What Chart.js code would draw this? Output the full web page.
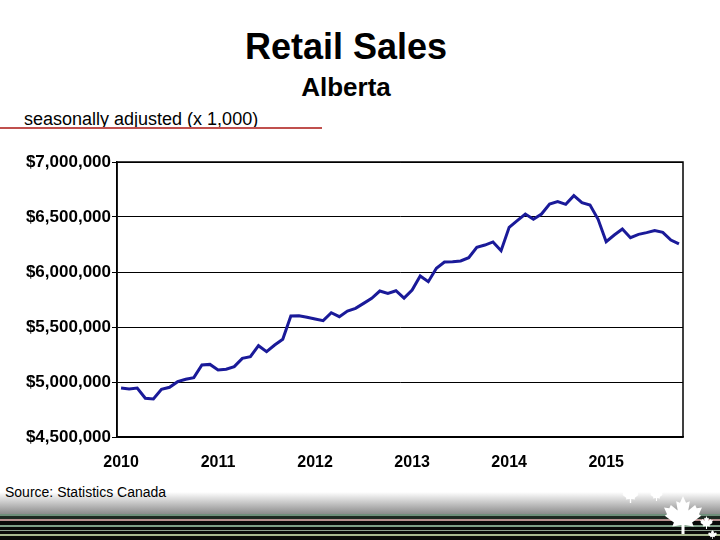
<!DOCTYPE html>
<html>
<head>
<meta charset="utf-8">
<script src="https://cdn.jsdelivr.net/npm/chart.js@4/dist/chart.umd.min.js"></script>
<style>
  html, body { margin: 0; padding: 0; background: #ffffff; }
  #page { position: relative; width: 720px; height: 540px; overflow: hidden; font-family: "Liberation Sans", Arial, sans-serif; }
  .t { position: absolute; line-height: 1; white-space: nowrap; color: #000; }
  #title { top: 29px; left: 0; width: 692px; text-align: center; font-size: 36px; font-weight: bold; }
  #sub { top: 74px; left: 0; width: 692px; text-align: center; font-size: 26px; font-weight: bold; }
  #note { top: 110px; left: 24px; font-size: 18px; }
  #rule { position: absolute; left: 0; top: 127px; width: 322px; height: 2px; background: #c0504d; }
  #src { top: 485px; left: 5px; font-size: 14px; }
  #chartBox { position: absolute; left: 0; top: 140px; width: 720px; height: 340px; }
  #fade { position: absolute; left: 0; top: 492px; width: 720px; height: 22px; background: linear-gradient(to bottom, rgba(255,255,255,1), #8c8c8c); }
  #stripes { position: absolute; left: 0; top: 514px; width: 720px; height: 26px; background: linear-gradient(to bottom,
      #6f8f7a 0px, #6f8f7a 2px, #1e2a22 2px, #1e2a22 5px, #b89090 5px, #b89090 7px, #0a0a0a 7px, #0a0a0a 11px,
      #7f9f88 11px, #7f9f88 13px, #0a0a0a 13px, #0a0a0a 16px, #8fa090 16px, #8fa090 17.5px, #0a0a0a 17.5px, #0a0a0a 20px,
      #a8b890 20px, #a8b890 22px, #0a0a0a 22px, #0a0a0a 26px); }
  #leaves { position: absolute; left: 0; top: 0; }
</style>
</head>
<body>
<div id="page">
  <div id="fade"></div>
  <div id="stripes"></div>
  <svg id="leaves" width="720" height="540">
    <defs>
      <polygon id="leaf" points="50,0 58,18 68,14 64,38 82,24 86,32 100,30 92,48 98,52 74,70 78,80 54,76 54,100 46,100 46,76 22,80 26,70 2,52 8,48 0,30 14,32 18,24 36,38 32,14 42,18" fill="#ffffff"/>
    </defs>
    <use href="#leaf" transform="translate(622,486) scale(0.17)"/>
    <use href="#leaf" transform="translate(650,488) scale(0.13)"/>
    <use href="#leaf" transform="translate(664,496) scale(0.38)"/>
    <use href="#leaf" transform="translate(700,516) scale(0.13)"/>
    <use href="#leaf" transform="translate(708,530) scale(0.09)"/>
  </svg>
  <div class="t" id="title">Retail Sales</div>
  <div class="t" id="sub">Alberta</div>
  <div class="t" id="note">seasonally adjusted (x 1,000)</div>
  <div id="rule"></div>
  <div id="chartBox"><canvas id="c" width="720" height="340"></canvas></div>
  <div class="t" id="src">Source: Statistics Canada</div>
</div>
<script>
const years = [2010, 2011, 2012, 2013, 2014, 2015];
const monthNames = ["Jan","Feb","Mar","Apr","May","Jun","Jul","Aug","Sep","Oct","Nov","Dec"];
const retailSales = [
  4945000, 4936000, 4945000, 4852000, 4845000, 4934000, 4952000, 5003000, 5025000, 5040000, 5155000, 5160000,
  5110000, 5116000, 5140000, 5215000, 5230000, 5330000, 5276000, 5336000, 5388000, 5600000, 5603000, 5588000,
  5573000, 5558000, 5630000, 5594000, 5645000, 5670000, 5715000, 5761000, 5827000, 5806000, 5830000, 5763000,
  5836000, 5964000, 5912000, 6034000, 6091000, 6094000, 6100000, 6130000, 6224000, 6245000, 6273000, 6194000,
  6406000, 6467000, 6527000, 6479000, 6527000, 6618000, 6640000, 6615000, 6694000, 6630000, 6609000, 6479000,
  6276000, 6336000, 6391000, 6312000, 6342000, 6358000, 6376000, 6361000, 6291000, 6255000
];
const yTicks = [4500000, 5000000, 5500000, 6000000, 6500000, 7000000];

const categories = [];
years.forEach(y => monthNames.forEach(m => categories.push(m + " " + y)));
categories.length = retailSales.length;

const frame = {
  id: 'frame',
  afterDraw(chart) {
    const a = chart.chartArea, ctx = chart.ctx;
    ctx.save();
    ctx.strokeStyle = '#000';
    ctx.lineWidth = 1.5;
    ctx.strokeRect(a.left, a.top, a.right - a.left, a.bottom - a.top);
    ctx.restore();
  }
};

new Chart(document.getElementById('c'), {
  type: 'line',
  data: {
    labels: categories,
    datasets: [{
      data: retailSales,
      borderColor: '#1a1a99',
      borderWidth: 3,
      pointRadius: 0,
      tension: 0,
      fill: false
    }]
  },
  options: {
    responsive: false,
    animation: false,
    layout: { padding: { top: 22, right: 37, left: 0, bottom: 0 } },
    plugins: { legend: { display: false }, tooltip: { enabled: false } },
    scales: {
      x: {
        offset: true,
        grid: { display: false, drawTicks: false },
        border: { display: true, color: '#000', width: 1.5 },
        ticks: {
          autoSkip: false,
          maxRotation: 0,
          padding: 16,
          color: '#000',
          font: { family: '"Liberation Sans", Arial, sans-serif', size: 16, weight: 'bold' },
          callback: function(v, i) { return i % 12 === 0 ? years[i / 12] : ''; }
        },
        afterFit(s) { s.height = 43; }
      },
      y: {
        min: yTicks[0],
        max: yTicks[yTicks.length - 1],
        afterBuildTicks(s) { s.ticks = yTicks.map(v => ({ value: v })); },
        grid: { color: '#000', lineWidth: 1, tickLength: 5, drawTicks: true },
        border: { display: true, color: '#000', width: 1.5 },
        ticks: {
          padding: 1,
          color: '#000',
          font: { family: '"Liberation Sans", Arial, sans-serif', size: 17, weight: 'bold' },
          callback: function(v) { return '$' + Number(v).toLocaleString('en-US'); }
        },
        afterFit(s) { s.width = 117; }
      }
    }
  },
  plugins: [frame]
});
</script>
</body>
</html>
